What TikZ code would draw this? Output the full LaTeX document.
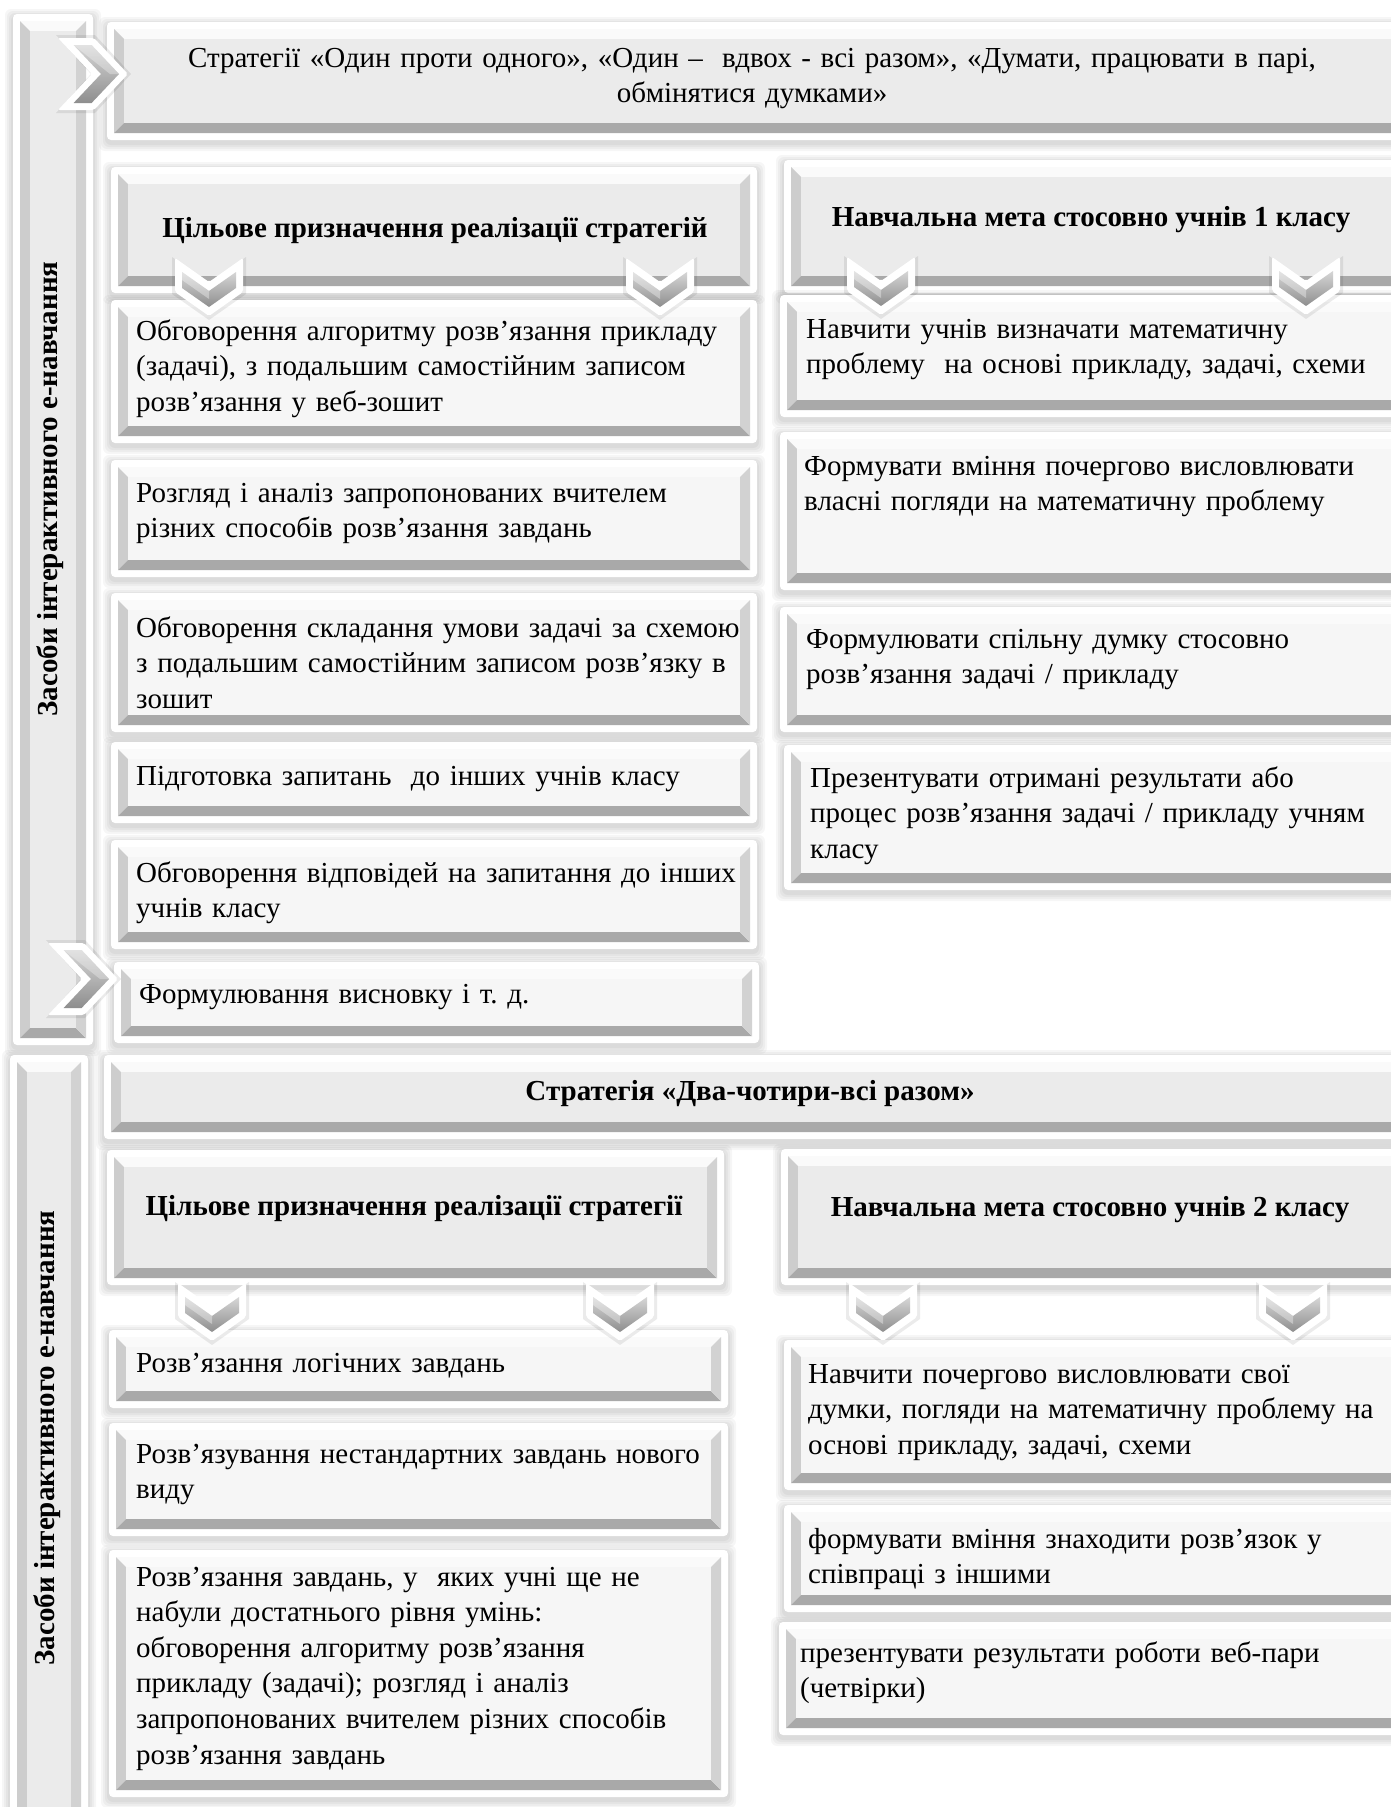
\documentclass[tikz,border=0pt]{standalone}
\usepackage{fontspec}
\setmainfont{Liberation Serif}
\frenchspacing
\definecolor{facehead}{HTML}{EBEBEB}
\definecolor{facecont}{HTML}{F6F6F6}
\definecolor{bevtop}{HTML}{FAFAFA}
\definecolor{bevleft}{HTML}{CDCDCD}
\definecolor{bevbot}{HTML}{A9A9A9}
\definecolor{bevright}{HTML}{D2D2D2}
\definecolor{chevlight}{HTML}{D6D6D6}
\definecolor{chevdark}{HTML}{8E8E8E}
\newcommand\jl[1]{\makebox[\linewidth][s]{#1}}
\newcommand\bx[6]{%
  \foreach \e in {2,4,6,8}{\fill[black,opacity=0.035,rounded corners=6] (#2-\e,#3-\e+3) rectangle (#4+\e,#5+\e+3);}
  \node[outerbox, minimum width={#4-#2}, minimum height={#5-#3}] (#1) at ({(#2+#4)/2},{(#3+#5)/2}) {};
  \fill[bevtop] (#2+7,#3+7) -- (#4-7,#3+7) -- (#4-17,#3+17) -- (#2+17,#3+17) -- cycle;
  \fill[bevleft] (#2+7,#3+7) -- (#2+17,#3+17) -- (#2+17,#5-17) -- (#2+7,#5-7) -- cycle;
  \fill[bevbot] (#2+7,#5-7) -- (#2+17,#5-17) -- (#4-17,#5-17) -- (#4-7,#5-7) -- cycle;
  \fill[bevright] (#4-7,#3+7) -- (#4-7,#5-7) -- (#4-17,#5-17) -- (#4-17,#3+17) -- cycle;
  \fill[#6] (#2+17,#3+17) rectangle (#4-17,#5-17);
}
\newcommand\dchev[3]{%
  \begin{scope}[shift={(#2,#3)}]
    \coordinate (#1) at (34,29);
    \fill[black,opacity=0.08] (-3,-1) -- (34,25) -- (71,-1) -- (71,36) -- (34,62) -- (-3,36) -- cycle;
    \fill[white,rounded corners=2] (0,0) -- (34,24) -- (68,0) -- (68,34) -- (34,58) -- (0,34) -- cycle;
    \shade[top color=chevlight,bottom color=chevdark] (7,14) -- (34,33) -- (61,14) -- (61,30) -- (34,49) -- (7,30) -- cycle;
    \fill[white,opacity=0.35] (7,14) -- (34,33) -- (34,41) -- (7,22) -- cycle;
  \end{scope}}
\newcommand\rchev[3]{%
  \begin{scope}[shift={(#2,#3)}]
    \coordinate (#1) at (35,36);
    \fill[black,opacity=0.08] (-2,-3) -- (37,-3) -- (73,36) -- (37,75) -- (-2,75) -- (33,36) -- cycle;
    \fill[white,rounded corners=2] (0,0) -- (36,0) -- (70,36) -- (36,72) -- (0,72) -- (34,36) -- cycle;
    \shade[top color=chevlight,bottom color=chevdark] (15.6,7) -- (33.6,7) -- (61,36) -- (33.6,65) -- (15.6,65) -- (43,36) -- cycle;
    \fill[white,opacity=0.3] (15.6,7) -- (33.6,7) -- (61,36) -- (52,36) -- cycle;
  \end{scope}}
\tikzset{
  outerbox/.style={rectangle, draw=none, fill=white, rounded corners=4, inner sep=0, outer sep=0},
  txt/.style={font=\fontsize{29}{35.6}\selectfont, inner sep=0, anchor=base west, align=left, text width=#1},
  txt/.default=600,
  hd/.style={font=\bfseries\fontsize{29}{35.6}\selectfont, inner sep=0, anchor=base},
  side/.style={font=\bfseries\fontsize{29}{35.6}\selectfont, inner sep=0, rotate=90, anchor=center}
}
\begin{document}
\begin{tikzpicture}[x=1pt,y=-1pt]
\useasboundingbox (0,0) rectangle (1391,1807);
\fill[white] (0,0) rectangle (1391,1807);
\clip (0,0) rectangle (1391,1807);
% ---------- upper section ----------
\bx{lb1}{13}{14}{93}{1045}{facehead}
\bx{t1}{107}{22}{1410}{140}{facehead}
\bx{h1l}{111}{167}{757}{293}{facehead}
\bx{h1r}{784}{160}{1410}{293}{facehead}
\bx{c1}{111}{300}{757}{443}{facecont}
\bx{c2}{111}{460}{757}{577}{facecont}
\bx{c3}{111}{593}{757}{732}{facecont}
\bx{c4}{111}{742}{757}{823}{facecont}
\bx{c5}{111}{840}{757}{949}{facecont}
\bx{c6}{114}{962}{759}{1043}{facecont}
\bx{r1}{780}{295}{1410}{417}{facecont}
\bx{r2}{780}{432}{1410}{590}{facecont}
\bx{r3}{780}{607}{1410}{732}{facecont}
\bx{r4}{784}{745}{1410}{890}{facecont}
% ---------- lower section ----------
\bx{lb2}{10}{1055}{88}{1830}{facehead}
\bx{t2}{104}{1055}{1410}{1139}{facehead}
\bx{h2l}{107}{1150}{724}{1285}{facehead}
\bx{h2r}{781}{1149}{1410}{1285}{facehead}
\bx{d1}{109}{1330}{728}{1408}{facecont}
\bx{d2}{109}{1423}{728}{1536}{facecont}
\bx{d3}{109}{1550}{728}{1797}{facecont}
\bx{e1}{784}{1340}{1410}{1490}{facecont}
\bx{e2}{784}{1505}{1410}{1612}{facecont}
\bx{e3}{779}{1622}{1410}{1735}{facecont}
% ---------- chevrons ----------
\rchev{rc1}{58}{38}
\rchev{rc2}{48}{943}
\dchev{dc1}{175}{258}
\dchev{dc2}{626}{258}
\dchev{dc3}{847}{257}
\dchev{dc4}{1272}{257}
\dchev{dc5}{178}{1283}
\dchev{dc6}{586}{1283}
\dchev{dc7}{849}{1283}
\dchev{dc8}{1259}{1283}
% ---------- texts ----------
\node[side] (s1) at (50,489) {Засоби інтерактивного е-навчання};
\node[side] (s2) at (47,1438) {Засоби інтерактивного е-навчання};
\node[txt=1250, anchor=base, align=center] (tt1) at (752,67) {Стратегії «Один проти одного», «Один –~ вдвох - всі разом», «Думати, працювати в парі,\\ обмінятися думками»};
\node[hd] (th1l) at (435,237) {Цільове призначення реалізації стратегій};
\node[hd] (th1r) at (1091,226) {Навчальна мета стосовно учнів 1 класу};
\node[txt=592] (tc1) at (136,340) {\jl{Обговорення алгоритму розв’язання прикладу}\\ \jl{(задачі), з подальшим самостійним записом}\\ розв’язання у веб-зошит};
\node[txt=592] (tc2) at (136,502) {\jl{Розгляд і аналіз запропонованих вчителем}\\ різних способів розв’язання завдань};
\node[txt=592] (tc3) at (136,637) {\jl{Обговорення складання умови задачі за схемою}\\ \jl{з подальшим самостійним записом розв’язку в}\\ зошит};
\node[txt=592] (tc4) at (136,785) {Підготовка запитань~ до інших учнів класу};
\node[txt=592] (tc5) at (136,882) {\jl{Обговорення відповідей на запитання до інших}\\ учнів класу};
\node[txt=592] (tc6) at (139,1003) {Формулювання висновку і т. д.};
\node[txt] (tr1) at (806,338) {Навчити учнів визначати математичну\\ проблему~ на основі прикладу, задачі, схеми};
\node[txt] (tr2) at (804,475) {Формувати вміння почергово висловлювати\\ власні погляди на математичну проблему};
\node[txt] (tr3) at (806,648) {Формулювати спільну думку стосовно\\ розв’язання задачі / прикладу};
\node[txt] (tr4) at (810,787) {Презентувати отримані результати або\\ процес розв’язання задачі / прикладу учням\\ класу};
\node[hd] (tt2) at (750,1100) {Стратегія «Два-чотири-всі разом»};
\node[hd] (th2l) at (414,1215) {Цільове призначення реалізації стратегії};
\node[hd] (th2r) at (1090,1216) {Навчальна мета стосовно учнів 2 класу};
\node[txt] (td1) at (136,1372) {Розв’язання логічних завдань};
\node[txt] (td2) at (136,1463) {Розв’язування нестандартних завдань нового\\ виду};
\node[txt] (td3) at (136,1586) {Розв’язання завдань, у~ яких учні ще не\\ набули достатнього рівня умінь:\\ обговорення алгоритму розв’язання\\ прикладу (задачі); розгляд і аналіз\\ запропонованих вчителем різних способів\\ розв’язання завдань};
\node[txt] (te1) at (808,1383) {Навчити почергово висловлювати свої\\ думки, погляди на математичну проблему на\\ основі прикладу, задачі, схеми};
\node[txt] (te2) at (808,1548) {формувати вміння знаходити розв’язок у\\ співпраці з іншими};
\node[txt] (te3) at (800,1662) {презентувати результати роботи веб-пари\\ (четвірки)};
\end{tikzpicture}
\end{document}
